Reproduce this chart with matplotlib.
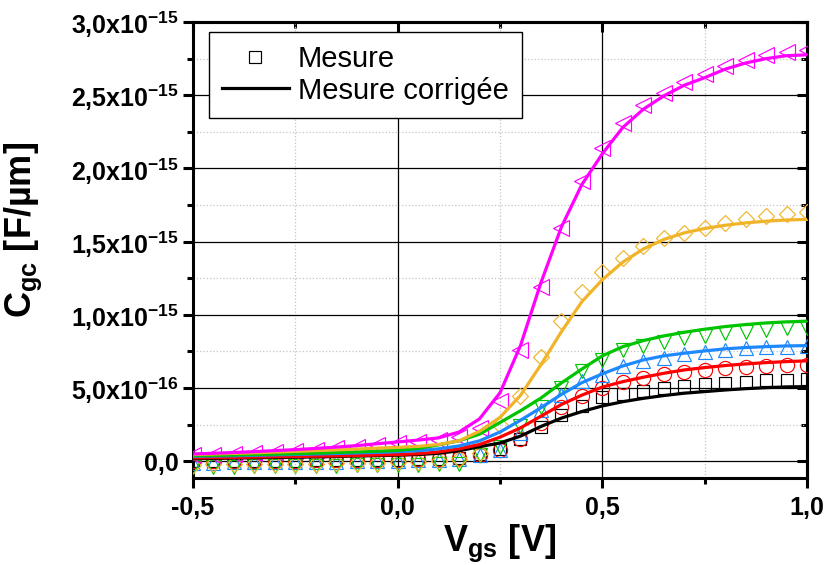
import numpy as np
import matplotlib
matplotlib.use("Agg")
import matplotlib.pyplot as plt
from matplotlib.ticker import FixedLocator, FixedFormatter, MultipleLocator
from matplotlib.lines import Line2D

plt.rcParams['font.family'] = ['Liberation Sans', 'DejaVu Sans']
plt.rcParams['mathtext.fontset'] = 'custom'
plt.rcParams['mathtext.rm'] = 'Liberation Sans'
plt.rcParams['mathtext.it'] = 'Liberation Sans:italic'
plt.rcParams['mathtext.bf'] = 'Liberation Sans:bold'

# ---------------- data (units of 1e-15 F/um) ----------------
UNIT = 1e-15
vgs = [-0.50, -0.45, -0.40, -0.35, -0.30, -0.25, -0.20, -0.15, -0.10, -0.05,
       0.00, 0.05, 0.10, 0.15, 0.20, 0.25, 0.30, 0.35, 0.40, 0.45,
       0.50, 0.55, 0.60, 0.65, 0.70, 0.75, 0.80, 0.85, 0.90, 0.95, 1.00]

# measured (markers)
meas_black = [0.000, 0.001, 0.002, 0.003, 0.004, 0.005, 0.006, 0.007, 0.008, 0.010,
              0.012, 0.015, 0.018, 0.025, 0.047, 0.083, 0.150, 0.234, 0.315, 0.380,
              0.437, 0.462, 0.483, 0.503, 0.517, 0.528, 0.535, 0.544, 0.553, 0.558, 0.560]
meas_red = [0.000, 0.001, 0.002, 0.003, 0.004, 0.005, 0.006, 0.007, 0.008, 0.010,
            0.012, 0.014, 0.017, 0.024, 0.045, 0.080, 0.155, 0.262, 0.370, 0.445,
            0.500, 0.544, 0.571, 0.597, 0.612, 0.624, 0.636, 0.642, 0.651, 0.656, 0.658]
meas_blue = [-0.010, -0.009, -0.008, -0.007, -0.006, -0.005, -0.004, -0.002, 0.000, 0.002,
             0.005, 0.008, 0.011, 0.018, 0.045, 0.080, 0.190, 0.350, 0.450, 0.545,
             0.590, 0.651, 0.686, 0.708, 0.731, 0.747, 0.763, 0.772, 0.779, 0.783, 0.788]
meas_green = [-0.038, -0.037, -0.036, -0.035, -0.034, -0.033, -0.032, -0.030, -0.028, -0.026,
              -0.024, -0.022, -0.020, -0.015, 0.040, 0.100, 0.240, 0.372, 0.500, 0.620,
              0.695, 0.761, 0.788, 0.818, 0.841, 0.856, 0.875, 0.886, 0.897, 0.909, 0.910]
meas_yellow = [-0.022, -0.021, -0.020, -0.019, -0.018, -0.017, -0.016, -0.014, -0.012, -0.010,
               -0.006, -0.002, 0.003, 0.015, 0.060, 0.250, 0.445, 0.713, 0.959, 1.153,
               1.290, 1.390, 1.468, 1.525, 1.560, 1.595, 1.628, 1.655, 1.673, 1.690, 1.700]
meas_magenta = [0.040, 0.045, 0.050, 0.057, 0.064, 0.072, 0.080, 0.090, 0.100, 0.110,
                0.122, 0.133, 0.145, 0.165, 0.228, 0.410, 0.760, 1.190, 1.595, 1.913,
                2.140, 2.308, 2.430, 2.518, 2.590, 2.644, 2.700, 2.742, 2.774, 2.797, 2.810]

# corrected (lines)
corr_black = [0.018, 0.020, 0.022, 0.024, 0.026, 0.028, 0.030, 0.033, 0.036, 0.039,
              0.042, 0.046, 0.055, 0.072, 0.100, 0.125, 0.172, 0.238, 0.295, 0.340,
              0.378, 0.407, 0.430, 0.449, 0.465, 0.476, 0.487, 0.496, 0.503, 0.508, 0.510]
corr_red = [0.023, 0.025, 0.027, 0.029, 0.031, 0.033, 0.035, 0.037, 0.040, 0.043,
            0.046, 0.052, 0.064, 0.085, 0.115, 0.165, 0.228, 0.308, 0.388, 0.452,
            0.507, 0.544, 0.574, 0.601, 0.624, 0.640, 0.654, 0.665, 0.674, 0.681, 0.686]
corr_blue = [0.034, 0.036, 0.038, 0.041, 0.044, 0.047, 0.050, 0.053, 0.057, 0.061,
             0.066, 0.072, 0.085, 0.105, 0.140, 0.200, 0.280, 0.366, 0.457, 0.537,
             0.597, 0.651, 0.692, 0.720, 0.738, 0.754, 0.768, 0.777, 0.783, 0.788, 0.790]
corr_green = [0.038, 0.040, 0.043, 0.046, 0.049, 0.052, 0.056, 0.060, 0.064, 0.069,
              0.075, 0.088, 0.112, 0.140, 0.185, 0.265, 0.345, 0.432, 0.535, 0.630,
              0.720, 0.783, 0.824, 0.856, 0.881, 0.902, 0.920, 0.934, 0.945, 0.952, 0.957]
corr_yellow = [0.046, 0.050, 0.054, 0.058, 0.063, 0.068, 0.073, 0.078, 0.084, 0.090,
               0.095, 0.102, 0.115, 0.140, 0.205, 0.300, 0.450, 0.660, 0.885, 1.090,
               1.240, 1.360, 1.450, 1.515, 1.560, 1.590, 1.612, 1.628, 1.640, 1.648, 1.652]
corr_magenta = [0.050, 0.055, 0.060, 0.066, 0.073, 0.080, 0.088, 0.097, 0.107, 0.120,
                0.132, 0.145, 0.160, 0.200, 0.290, 0.468, 0.790, 1.220, 1.600, 1.890,
                2.100, 2.280, 2.404, 2.495, 2.568, 2.620, 2.678, 2.720, 2.750, 2.770, 2.776]

x_ticks = [-0.5, 0.0, 0.5, 1.0]
x_tick_labels = ["-0,5", "0,0", "0,5", "1,0"]
y_ticks = [0.0, 0.5, 1.0, 1.5, 2.0, 2.5, 3.0]
y_tick_labels = ["0,0",
                 r"$\mathbf{5{,}0x10^{-16}}$",
                 r"$\mathbf{1{,}0x10^{-15}}$",
                 r"$\mathbf{1{,}5x10^{-15}}$",
                 r"$\mathbf{2{,}0x10^{-15}}$",
                 r"$\mathbf{2{,}5x10^{-15}}$",
                 r"$\mathbf{3{,}0x10^{-15}}$"]
legend_labels = ["Mesure", "Mesure corrigée"]

# ---------------- styling ----------------
series = [
    (meas_black, corr_black, '#000000', 's', 8.8),
    (meas_red, corr_red, '#FF0000', 'o', 10.2),
    (meas_blue, corr_blue, '#1E88FF', '^', 10.4),
    (meas_green, corr_green, '#00C400', 'v', 10.4),
    (meas_yellow, corr_yellow, '#F0B428', 'D', 8.0),
    (meas_magenta, corr_magenta, '#FF00FF', '<', 11.2),
]

fig = plt.figure(figsize=(8.28, 5.65), dpi=100)
ax = fig.add_axes([193/828, 1-478/565, 614/828, 456/565])

x = np.array(vgs)
for meas, corr, col, mk, ms in series:
    ax.plot(x, np.array(meas) * UNIT, linestyle='none', marker=mk, markersize=ms,
            markerfacecolor='none', markeredgecolor=col, markeredgewidth=0.85, zorder=3)
for meas, corr, col, mk, ms in series:
    ax.plot(x, np.array(corr) * UNIT, color=col, linewidth=2.3, zorder=4)

ax.set_xlim(-0.5, 1.0)
ax.set_ylim(-0.114e-15, 3.0e-15)

ax.xaxis.set_major_locator(FixedLocator(x_ticks))
ax.xaxis.set_major_formatter(FixedFormatter(x_tick_labels))
ax.xaxis.set_minor_locator(MultipleLocator(0.25))
yt = [v * UNIT for v in y_ticks]
ax.yaxis.set_major_locator(FixedLocator(yt))
ax.yaxis.set_major_formatter(FixedFormatter(y_tick_labels))
ax.yaxis.set_minor_locator(MultipleLocator(0.25e-15))

ax.set_axisbelow(True)
ax.grid(which='major', color='#000000', linewidth=0.9, linestyle='-', zorder=0)
ax.grid(which='minor', color='#c4c4c4', linewidth=0.9, linestyle=':', zorder=0)

for sp in ax.spines.values():
    sp.set_linewidth(2.2)
ax.tick_params(which='major', direction='out', length=7, width=2.2, labelsize=18, pad=3)
ax.tick_params(which='minor', direction='out', length=4, width=2.2)
ax.tick_params(axis='x', which='major', pad=6)
for lab in ax.get_xticklabels():
    lab.set_fontweight('bold')
for lab in ax.get_yticklabels():
    lab.set_fontweight('bold')

# mirrored ticks pointing inward on top and right
secx = ax.secondary_xaxis('top')
secx.xaxis.set_major_locator(FixedLocator(x_ticks))
secx.xaxis.set_minor_locator(MultipleLocator(0.25))
secx.tick_params(which='major', direction='in', length=7, width=2.2, labeltop=False)
secx.tick_params(which='minor', direction='in', length=4, width=2.2)
secx.spines['top'].set_linewidth(2.2)
secy = ax.secondary_yaxis('right')
secy.yaxis.set_major_locator(FixedLocator(yt))
secy.yaxis.set_minor_locator(MultipleLocator(0.25e-15))
secy.tick_params(which='major', direction='in', length=7, width=2.2, labelright=False)
secy.tick_params(which='minor', direction='in', length=4, width=2.2)
secy.spines['right'].set_linewidth(2.2)

ax.set_xlabel(r"$\mathbf{V_{gs}}$ [V]", fontsize=26, fontweight='bold', labelpad=2)
ax.set_ylabel(r"$\mathbf{C_{gc}}$ [F/µm]", fontsize=26, fontweight='bold')
ax.yaxis.set_label_coords(-0.243, 0.544)

handles = [Line2D([], [], linestyle='none', marker='s', markersize=8.8,
                  markerfacecolor='none', markeredgecolor='black', markeredgewidth=0.85),
           Line2D([], [], color='black', linewidth=2.3)]
leg = ax.legend(handles, legend_labels, loc='upper left', bbox_to_anchor=(0.0256, 0.978),
                borderaxespad=0, fontsize=21, frameon=True, fancybox=False,
                handlelength=2.3, handletextpad=0.3, labelspacing=0.12, borderpad=0.45)
leg.get_frame().set_edgecolor('black')
leg.get_frame().set_linewidth(1.0)
leg.get_frame().set_alpha(1)

fig.savefig("out.png", dpi=100)
